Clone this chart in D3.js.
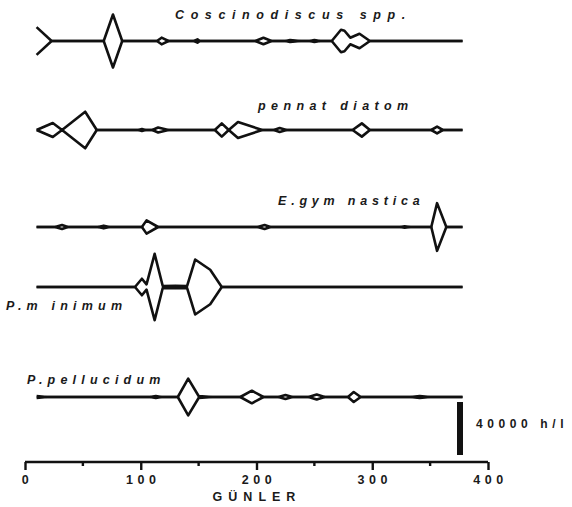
<!DOCTYPE html>
<html>
<head>
<meta charset="utf-8">
<script src="https://cdn.jsdelivr.net/npm/d3@7"></script>
<style>
  html, body { margin: 0; padding: 0; background: #fff; }
  svg { display: block; }
  text { font-family: "Liberation Sans", Arial, sans-serif; font-weight: bold; fill: #1a1a1a; }
</style>
</head>
<body>
<svg id="chart" width="572" height="507"></svg>
<script>
// Sampling days and densities (h/l) for each species
const cosDays = [10, 23, 68, 76, 84, 114, 118, 124, 146, 149, 151, 199, 206, 213, 225, 229, 238, 246, 250, 255, 265, 273, 276, 281, 289, 298, 378];
const cosVals = [21000, 0, 0, 40000, 0, 0, 5000, 0, 0, 2500, 0, 0, 5000, 0, 0, 1500, 0, 0, 1500, 0, 0, 17000, 15500, 5000, 11000, 0, 0];

const penDays = [10, 24, 32, 52, 62, 98, 101, 104, 110, 115, 124, 164, 170, 176, 184, 205, 215, 220, 226, 283, 291, 298, 351, 356, 361, 378];
const penVals = [0, 10600, 0, 27600, 0, 0, 1500, 0, 0, 3800, 0, 0, 10000, 0, 12000, 0, 0, 3000, 0, 0, 10000, 0, 0, 5000, 0, 0];

const gymDays = [10, 26, 32, 37, 63, 68, 73, 101, 105, 115, 201, 207, 212, 324, 328, 333, 351, 356, 364, 378];
const gymVals = [0, 0, 3000, 0, 0, 2000, 0, 0, 10000, 0, 0, 3000, 0, 0, 1000, 0, 0, 36000, 0, 0];

const minDays = [10, 95, 101, 105, 112, 119, 130, 140, 147, 160, 170, 378];
const minVals = [0, 0, 12500, 4000, 50000, 1500, 2000, 1500, 41500, 26000, 0, 0];

const pelDays = [10, 19, 108, 113, 118, 132, 141, 150, 162, 186, 196, 206, 219, 225, 231, 245, 252, 259, 279, 284, 290, 333, 341, 350, 378];
const pelVals = [1500, 0, 0, 1500, 0, 0, 27700, 1500, 0, 0, 9500, 0, 0, 3000, 0, 0, 3800, 0, 0, 7500, 0, 0, 1500, 0, 0];

const speciesNames = ["Coscinodiscus spp.", "pennat diatom", "E.gym nastica", "P.m inimum", "P.pellucidum"];
const axisTicks = [0, 100, 200, 300, 400];
const minorTicks = [50, 150, 250, 350];
const scaleValue = 40000;
const scaleLabel = "40000 h/l";
const axisTitle = "GÜNLER";

const svg = d3.select("#chart");

const x = d3.scaleLinear().domain([0, 400]).range([25, 488]);
// full kite width (both sides together) in pixels
const w = d3.scaleLinear().domain([0, 40000]).range([0, 53]);

const rows = [
  { name: speciesNames[0], days: cosDays, vals: cosVals, base: 41,  lx: 175, ly: 19,  ls: 6.6 },
  { name: speciesNames[1], days: penDays, vals: penVals, base: 130, lx: 258, ly: 110, ls: 5.4 },
  { name: speciesNames[2], days: gymDays, vals: gymVals, base: 227, lx: 278, ly: 205, ls: 4.8 },
  { name: speciesNames[3], days: minDays, vals: minVals, base: 287, lx: 6,   ly: 310, ls: 5.2 },
  { name: speciesNames[4], days: pelDays, vals: pelVals, base: 397, lx: 27,  ly: 384, ls: 5.2 }
];

rows.forEach(r => {
  const pts = r.days.map((d, i) => ({ d, v: r.vals[i] }));
  const area = d3.area()
    .x(p => x(p.d))
    .y0(p => r.base + w(p.v) / 2)
    .y1(p => r.base - w(p.v) / 2);
  const upper = d3.line().x(p => x(p.d)).y(p => r.base - w(p.v) / 2);
  const lower = d3.line().x(p => x(p.d)).y(p => r.base + w(p.v) / 2);
  svg.append("path").datum(pts).attr("d", area).attr("fill", "#fff");
  [upper, lower].forEach(gen => {
    svg.append("path")
      .datum(pts)
      .attr("d", gen)
      .attr("fill", "none")
      .attr("stroke", "#111")
      .attr("stroke-width", 2.6)
      .attr("stroke-linejoin", "round");
  });
  svg.append("text")
    .attr("x", r.lx).attr("y", r.ly)
    .attr("font-size", 12.5)
    .attr("font-style", "italic")
    .attr("letter-spacing", r.ls + "px")
    .text(r.name);
});

// scale bar
const barBottom = 455;
svg.append("rect")
  .attr("x", 457).attr("width", 6)
  .attr("y", barBottom - w(scaleValue)).attr("height", w(scaleValue))
  .attr("fill", "#111");
svg.append("text")
  .attr("x", 476).attr("y", 428)
  .attr("font-size", 12)
  .attr("letter-spacing", "4.6px")
  .text(scaleLabel);

// time axis
const axisY = 462;
const axis = d3.axisBottom(x).tickValues(axisTicks).tickSize(8).tickSizeOuter(0).tickPadding(5);
const g = svg.append("g").attr("transform", `translate(0,${axisY})`).call(axis);
g.select(".domain").attr("stroke", "#111").attr("stroke-width", 2.6).attr("d", `M${x(0)},0H${x(400)}`);
g.selectAll(".tick line").attr("stroke", "#111").attr("stroke-width", 2.4);
g.selectAll(".tick text")
  .attr("font-size", 12.5)
  .attr("font-family", "Liberation Sans, Arial, sans-serif")
  .attr("font-weight", "bold")
  .attr("fill", "#1a1a1a")
  .attr("letter-spacing", "4.5px")
  .attr("dx", "2px");
g.selectAll(".minor")
  .data(minorTicks).enter().append("line")
  .attr("x1", d => x(d)).attr("x2", d => x(d))
  .attr("y1", 0).attr("y2", 4)
  .attr("stroke", "#111").attr("stroke-width", 2.4);

svg.append("text")
  .attr("x", 257).attr("y", 501)
  .attr("text-anchor", "middle")
  .attr("font-size", 12.5)
  .attr("letter-spacing", "6px")
  .text(axisTitle);
</script>
</body>
</html>
